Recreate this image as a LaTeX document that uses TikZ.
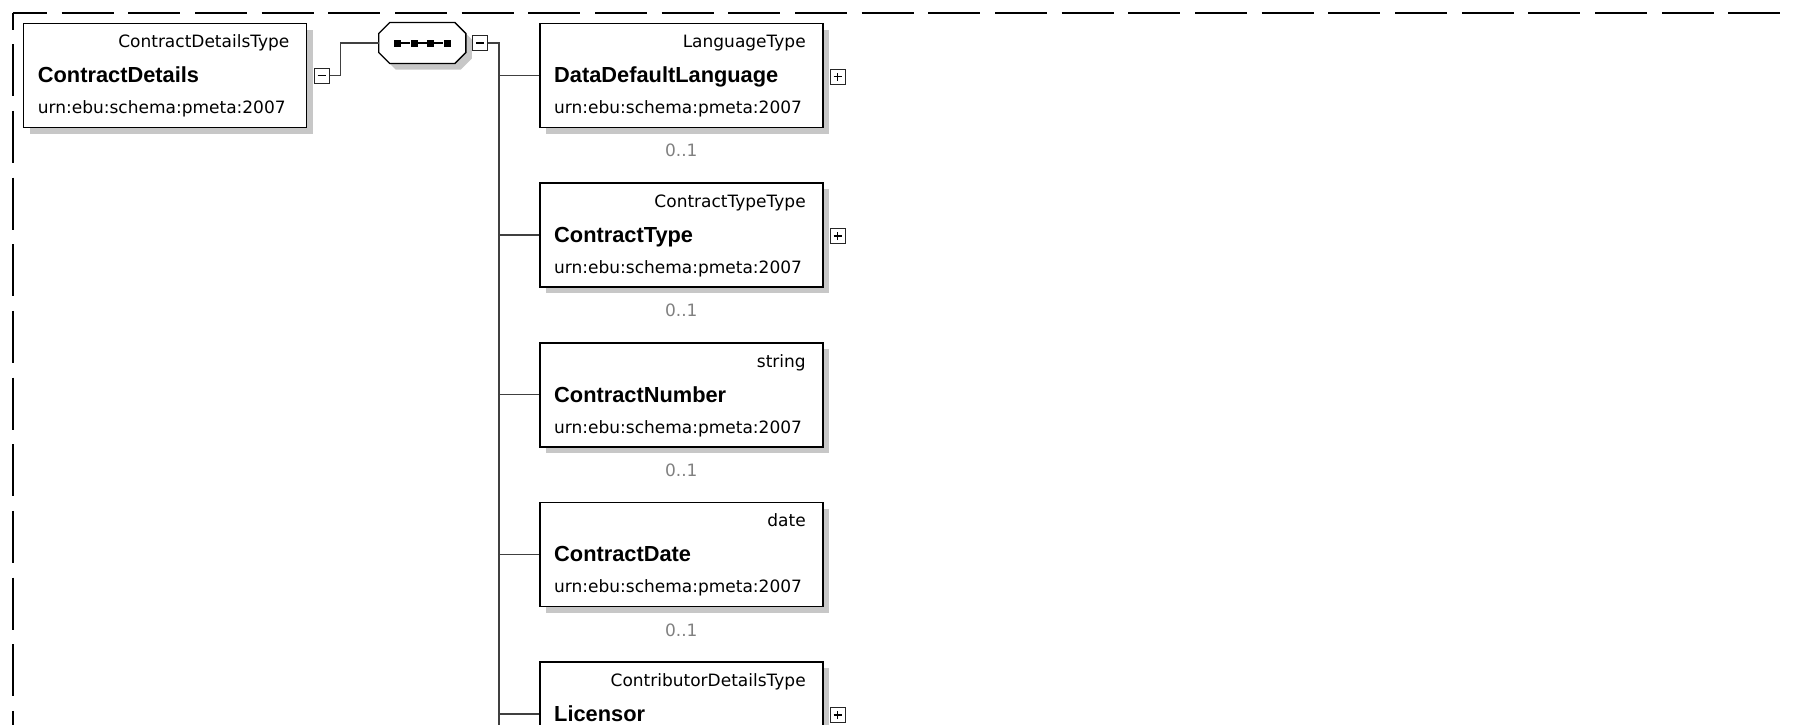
\documentclass[tikz,border=0pt]{standalone}
\usepackage{fontspec}
\newfontfamily\typefont{DejaVu Sans}
\newfontfamily\namefont{Liberation Sans}
\usetikzlibrary{shadows,calc}

\tikzset{
  elbox/.style={draw=black, line width=1.6pt, fill=white, minimum width=283pt,
    minimum height=104pt, inner sep=0pt, anchor=north west,
    drop shadow={shadow xshift=6pt, shadow yshift=-6pt, fill=black!22, opacity=1}},
  typelbl/.style={inner sep=0pt, anchor=base east, font=\typefont\fontsize{17}{17}\selectfont},
  namelbl/.style={inner sep=0pt, anchor=base west, font=\namefont\bfseries\fontsize{21.8}{22}\selectfont},
  nslbl/.style={inner sep=0pt, anchor=base west, font=\typefont\fontsize{17}{17}\selectfont},
  occlbl/.style={inner sep=0pt, anchor=center, text=black!50, font=\typefont\fontsize{17}{17}\selectfont},
  toggle/.style={draw=black!85, line width=1pt, fill=white, minimum size=15pt, inner sep=0pt},
  togglebar/.style={draw=black, line width=1.6pt},
  conn/.style={draw=black!75, line width=1.3pt},
  frame/.style={draw=black, line width=2pt, dash pattern=on 52pt off 14.67pt},
  seqbox/.style={minimum width=86.7pt, minimum height=40.6pt, inner sep=0pt},
  seqdot/.style={fill=black, minimum size=7pt, inner sep=0pt},
}

% element box: #1 name, #2 left, #3 top, #4 type, #5 element name
\newcommand\xsdelem[5]{%
  \node[elbox] (#1) at (#2,#3) {};
  \node[typelbl] (#1-type) at ($(#1.north east)+(-17.7,25)$) {#4};
  \node[namelbl] (#1-name) at ($(#1.north west)+(15,60)$) {#5};
}
\newcommand\xsdns[1]{%
  \node[nslbl] (#1-ns) at ($(#1.north west)+(15,91)$) {urn:ebu:schema:pmeta:2007};
}
\newcommand\xsdocc[1]{%
  \node[occlbl] (#1-occ) at ($(#1.south)+(0,22.5)$) {0..1};
}
% expand (+) or collapse (-) toggle
\newcommand\xsdtoggle[3]{%
  \node[toggle] (#1) at #2 {};
  \draw[togglebar] ([xshift=-4pt]#1.center) -- ([xshift=4pt]#1.center);
  \if#3p\draw[togglebar] ([yshift=-4pt]#1.center) -- ([yshift=4pt]#1.center);\fi
}

\begin{document}
\begin{tikzpicture}[x=1pt, y=-1pt]
\useasboundingbox (0,0) rectangle (1793,724);
\clip (0,0) rectangle (1793,724);

% dashed frame round the diagram
\draw[frame, dash phase=17.7pt] (12.7,12.7) -- (1810,12.7);
\draw[frame, dash phase=35.2pt] (12.7,12.7) -- (12.7,740);

% root element
\xsdelem{root}{22.7}{22.7}{ContractDetailsType}{ContractDetails}
\xsdns{root}
\xsdtoggle{rtg}{($(root.east)+(14.3,0)$)}{m}

% sequence compositor
\node[seqbox] (seq) at (422.3,43) {};
\fill[black!22] ($(seq.north west)+(17,6)$) -- ($(seq.north east)+(-5,6)$)
  -- ($(seq.north east)+(6,17)$) -- ($(seq.south east)+(6,-5)$)
  -- ($(seq.south east)+(-5,6)$) -- ($(seq.south west)+(17,6)$)
  -- ($(seq.south west)+(6,-5)$) -- ($(seq.north west)+(6,17)$) -- cycle;
\filldraw[fill=white, draw=black, line width=1.3pt]
  ($(seq.north west)+(11,0)$) -- ($(seq.north east)+(-11,0)$)
  -- ($(seq.north east)+(0,11)$) -- ($(seq.south east)+(0,-11)$)
  -- ($(seq.south east)+(-11,0)$) -- ($(seq.south west)+(11,0)$)
  -- ($(seq.south west)+(0,-11)$) -- ($(seq.north west)+(0,11)$) -- cycle;
\node[seqdot] (d1) at ($(seq.center)+(-24.8,0)$) {};
\node[seqdot] (d2) at ($(seq.center)+(-8.3,0)$) {};
\node[seqdot] (d3) at ($(seq.center)+(8.3,0)$) {};
\node[seqdot] (d4) at ($(seq.center)+(24.8,0)$) {};
\draw[line width=2pt] (d1) -- (d2) -- (d3) -- (d4);
\xsdtoggle{stg}{($(seq.east)+(14.3,0)$)}{m}

% child elements
\xsdelem{dl}{539}{22.7}{LanguageType}{DataDefaultLanguage}
\xsdns{dl}\xsdocc{dl}
\xsdtoggle{dltg}{($(dl.east)+(14,1)$)}{p}

\xsdelem{ct}{539}{182.3}{ContractTypeType}{ContractType}
\xsdns{ct}\xsdocc{ct}
\xsdtoggle{cttg}{($(ct.east)+(14,1)$)}{p}

\xsdelem{cn}{539}{342}{string}{ContractNumber}
\xsdns{cn}\xsdocc{cn}

\xsdelem{cd}{539}{501.7}{date}{ContractDate}
\xsdns{cd}\xsdocc{cd}

\xsdelem{lic}{539}{661.3}{ContributorDetailsType}{Licensor}
\xsdtoggle{lictg}{($(lic.east)+(14,1)$)}{p}

% connectors
\coordinate (trunkend) at (499,740);
\draw[conn] (rtg.east) -- ++(10.6,0) |- (seq.west);
\draw[conn] (stg.east) -| (trunkend);
\foreach \c in {dl,ct,cn,cd,lic}
  \draw[conn] (\c.west -| trunkend) -- (\c.west);
\end{tikzpicture}
\end{document}
